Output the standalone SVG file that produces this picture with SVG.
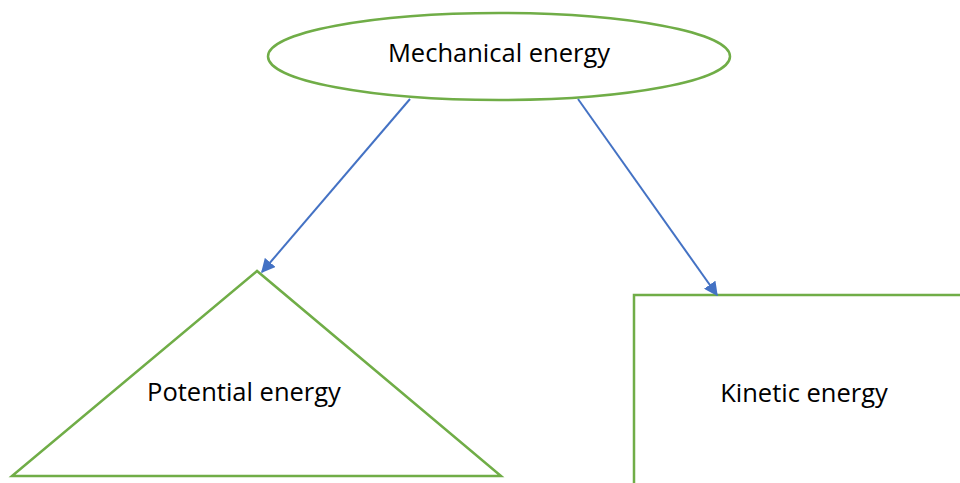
<svg xmlns="http://www.w3.org/2000/svg" width="960" height="483" viewBox="0 0 960 483">
<style>
.shape{fill:#fff;stroke:#70AD47;stroke-width:2.5}
.lbl{font-family:"Open Sans","Liberation Sans",sans-serif;font-size:25.5px;fill:#000;text-anchor:middle}
</style>
<defs>
<marker id="ah2" viewBox="0 0 10 10" refX="9" refY="5" markerWidth="14" markerHeight="14" orient="auto" markerUnits="userSpaceOnUse">
<path d="M0,0 L10,5 L0,10 z" fill="#4472C4"/>
</marker>
</defs>
<rect width="960" height="483" fill="#fff"/>
<g id="mechanical">
<ellipse class="shape" cx="499" cy="56.5" rx="231" ry="43.5"/>
<text class="lbl" x="499" y="62">Mechanical energy</text>
</g>
<g id="potential">
<polygon class="shape" points="257,271 12,476 501,476"/>
<text class="lbl" x="244" y="401">Potential energy</text>
</g>
<g id="kinetic">
<rect class="shape" x="634" y="295" width="340" height="200"/>
<text class="lbl" x="804" y="402">Kinetic energy</text>
</g>
<g id="connectors">
<line x1="410" y1="99" x2="262" y2="272" stroke="#4472C4" stroke-width="2" marker-end="url(#ah2)"/>
<line x1="578" y1="99" x2="717" y2="295" stroke="#4472C4" stroke-width="2" marker-end="url(#ah2)"/>
</g>
</svg>
